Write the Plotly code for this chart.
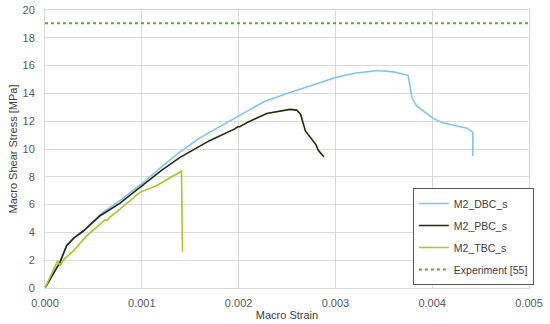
import plotly.graph_objects as go

dbc_x = [0, 0.00005, 0.0001, 0.000155, 0.000224, 0.0003, 0.000396, 0.00057, 0.000775, 0.001, 0.0012,
         0.001395, 0.0016, 0.0018, 0.002, 0.00226, 0.0025, 0.00284, 0.003, 0.0032, 0.00344, 0.0036,
         0.00375, 0.00377, 0.00379, 0.00384, 0.0039, 0.00401, 0.0041, 0.00422, 0.00436, 0.00442, 0.00442]
dbc_y = [0, 0.6, 1.2, 1.9, 3.1, 3.6, 4.1, 5.3, 6.3, 7.5, 8.7,
         9.8, 10.8, 11.6, 12.4, 13.4, 14.0, 14.8, 15.15, 15.45, 15.65, 15.55,
         15.3, 14.6, 13.7, 13.1, 12.8, 12.2, 11.9, 11.7, 11.5, 11.2, 9.5]

pbc_x = [0, 0.00005, 0.0001, 0.000155, 0.000224, 0.0003, 0.000396, 0.00057, 0.000775, 0.001, 0.0012,
         0.001395, 0.00152, 0.0017, 0.00196, 0.00199, 0.00201, 0.0021, 0.00229, 0.0024, 0.00253, 0.0026,
         0.00264, 0.00269, 0.002755, 0.0028, 0.002823, 0.00288]
pbc_y = [0, 0.6, 1.2, 1.85, 3.05, 3.6, 4.1, 5.2, 6.1, 7.35, 8.45,
         9.4, 9.9, 10.6, 11.45, 11.6, 11.6, 11.95, 12.55, 12.7, 12.85, 12.8,
         12.5, 11.3, 10.75, 10.3, 9.9, 9.45]

tbc_x = [0, 0.00005, 0.0001, 0.00013, 0.000155, 0.0002, 0.000293, 0.00043, 0.00062, 0.00064, 0.000671,
         0.000775, 0.00098, 0.00115, 0.0013, 0.001395, 0.00141, 0.00142]
tbc_y = [0, 0.7, 1.5, 1.95, 1.6, 2.1, 2.67, 3.75, 4.9, 4.85, 5.1,
         5.68, 6.88, 7.36, 7.95, 8.35, 8.4, 2.6]

exp_x = [0, 0.005]
exp_y = [19.05, 19.05]

series = [
    ("M2_DBC_s", dbc_x, dbc_y, "#7EC4EE", "solid"),
    ("M2_PBC_s", pbc_x, pbc_y, "#22290F", "solid"),
    ("M2_TBC_s", tbc_x, tbc_y, "#A8C72C", "solid"),
    ("Experiment [55]", exp_x, exp_y, "#5BA832", "dot"),
]

fig = go.Figure()
for i, (name, xs, ys, col, dash) in enumerate(series):
    fig.add_trace(go.Scatter(x=xs, y=ys, mode="lines", name=name, legendgroup=str(i),
                             line=dict(color=col, width=1.6 if dash == "solid" else 2, dash=dash)))

font = "Liberation Sans, Arial, sans-serif"
fig.update_layout(
    width=550, height=324,
    margin=dict(l=45, r=21, t=10, b=36),
    paper_bgcolor="white", plot_bgcolor="white",
    font=dict(family=font, size=11, color="#404040"),
    showlegend=True,
    legend=dict(x=0.76, y=0.011, xanchor="left", yanchor="bottom",
                bgcolor="white", bordercolor="#595959", borderwidth=1,
                font=dict(size=10.5, color="#404040"), tracegroupgap=3,
                itemwidth=30),
    xaxis=dict(range=[0, 0.005], dtick=0.001, tick0=0, tickformat=".3f",
               showgrid=True, gridcolor="#D9D9D9", gridwidth=1, automargin=False,
               showline=True, linecolor="#D9D9D9", mirror=True, zeroline=False,
               ticks="", ticklabelstandoff=5, tickfont=dict(size=11, color="#595959"),
               title=dict(text="Macro Strain", font=dict(size=11, color="#404040"), standoff=3)),
    yaxis=dict(range=[0, 20], dtick=2, tick0=0,
               showgrid=True, gridcolor="#D9D9D9", gridwidth=1, automargin=False,
               showline=True, linecolor="#D9D9D9", mirror=True, zeroline=False,
               ticks="", ticklabelstandoff=7, tickfont=dict(size=11, color="#595959"),
               title=dict(text="Macro Shear Stress [MPa]", font=dict(size=11, color="#404040"), standoff=2)),
)

fig.write_html("out.html", config={"displayModeBar": False},
               post_script="document.body.style.margin='0';document.body.style.padding='0';document.body.style.overflow='hidden';")
